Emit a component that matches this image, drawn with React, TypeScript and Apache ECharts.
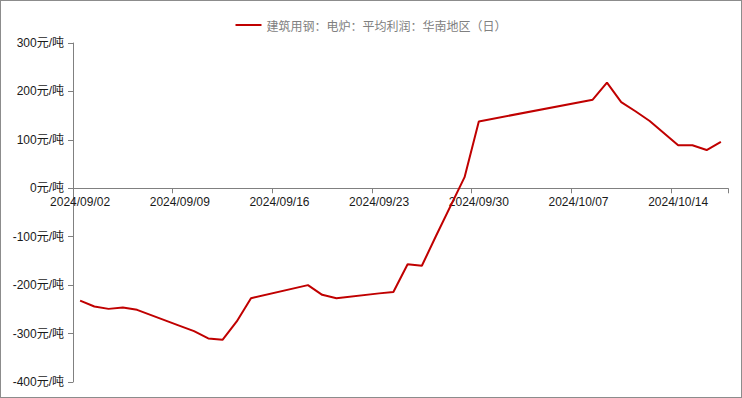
import React, { useEffect, useRef } from "react";
import * as echarts from "echarts";

const seriesName = "建筑用钢：电炉：平均利润：华南地区（日）";

const allDates = [
  "2024/09/02", "2024/09/03", "2024/09/04", "2024/09/05", "2024/09/06", "2024/09/07", "2024/09/08",
  "2024/09/09", "2024/09/10", "2024/09/11", "2024/09/12", "2024/09/13", "2024/09/14", "2024/09/15",
  "2024/09/16", "2024/09/17", "2024/09/18", "2024/09/19", "2024/09/20", "2024/09/21", "2024/09/22",
  "2024/09/23", "2024/09/24", "2024/09/25", "2024/09/26", "2024/09/27", "2024/09/28", "2024/09/29",
  "2024/09/30", "2024/10/01", "2024/10/02", "2024/10/03", "2024/10/04", "2024/10/05", "2024/10/06",
  "2024/10/07", "2024/10/08", "2024/10/09", "2024/10/10", "2024/10/11", "2024/10/12", "2024/10/13",
  "2024/10/14", "2024/10/15", "2024/10/16", "2024/10/17",
];

const tradingDates = [
  "2024/09/02", "2024/09/03", "2024/09/04", "2024/09/05", "2024/09/06",
  "2024/09/09", "2024/09/10", "2024/09/11", "2024/09/12", "2024/09/13", "2024/09/14",
  "2024/09/18", "2024/09/19", "2024/09/20",
  "2024/09/23", "2024/09/24", "2024/09/25", "2024/09/26", "2024/09/27", "2024/09/29",
  "2024/09/30",
  "2024/10/08", "2024/10/09", "2024/10/10", "2024/10/11", "2024/10/12",
  "2024/10/14", "2024/10/15", "2024/10/16", "2024/10/17",
];

const profits = [
  -232, -244, -249, -246, -251,
  -284, -295, -310, -313, -275, -227,
  -200, -220, -227,
  -217, -214, -157, -160, -98, 23,
  138,
  183, 218, 178, 159, 139,
  89, 89, 79, 96,
];

const yMin = -400;
const yMax = 300;
const yStep = 100;

export default function App() {
  const ref = useRef<HTMLDivElement>(null);

  useEffect(() => {
    if (!ref.current) return;
    const chart = echarts.init(ref.current, undefined, { renderer: "svg" });
    const lookup: Record<string, number> = {};
    tradingDates.forEach((d, i) => (lookup[d] = profits[i]));
    const data = allDates.map((d) => (d in lookup ? lookup[d] : null));
    const font = "'Liberation Sans', 'Noto Sans CJK SC', sans-serif";

    const gridTop = 42;
    const gridBottom = 15;
    const gridHeight = 396 - gridTop - gridBottom;
    const zeroFromBottom = (gridHeight * (0 - yMin)) / (yMax - yMin);

    chart.setOption({
      animation: false,
      legend: {
        top: 13,
        left: "center",
        icon: "rect",
        itemWidth: 26,
        itemHeight: 2,
        itemGap: 6,
        textStyle: {
          color: "#808080",
          fontSize: 12,
          fontFamily: "'Noto Sans CJK SC', sans-serif",
        },
        data: [seriesName],
      },
      grid: {
        left: 72,
        right: 13,
        top: gridTop,
        bottom: gridBottom,
        containLabel: false,
        outerBoundsMode: "none",
      },
      xAxis: {
        type: "category",
        data: allDates,
        boundaryGap: true,
        position: "bottom",
        offset: -zeroFromBottom,
        axisLine: { onZero: false, lineStyle: { color: "#808080", width: 1 } },
        axisTick: { show: true, interval: 6, length: 5, lineStyle: { color: "#808080" } },
        axisLabel: {
          interval: 6,
          color: "#1a1a1a",
          fontSize: 12,
          fontFamily: font,
          margin: 8,
        },
        splitLine: { show: false },
      },
      yAxis: {
        type: "value",
        min: yMin,
        max: yMax,
        interval: yStep,
        axisLine: { show: true, lineStyle: { color: "#808080", width: 1 } },
        axisTick: { show: true, length: 5, lineStyle: { color: "#808080" } },
        axisLabel: {
          formatter: "{value}元/吨",
          color: "#1a1a1a",
          fontSize: 12,
          fontFamily: font,
          margin: 9,
        },
        splitLine: { show: false },
      },
      series: [
        {
          name: seriesName,
          type: "line",
          data,
          connectNulls: true,
          symbol: "none",
          lineStyle: { color: "#C00000", width: 2 },
          itemStyle: { color: "#C00000" },
        },
      ],
    });

    return () => chart.dispose();
  }, []);

  return (
    <div
      style={{
        position: "fixed",
        left: 0,
        top: 0,
        width: 742,
        height: 398,
        boxSizing: "border-box",
        border: "1px solid #8c8c8c",
        background: "#fff",
      }}
    >
      <div ref={ref} style={{ width: 740, height: 396 }} />
    </div>
  );
}
